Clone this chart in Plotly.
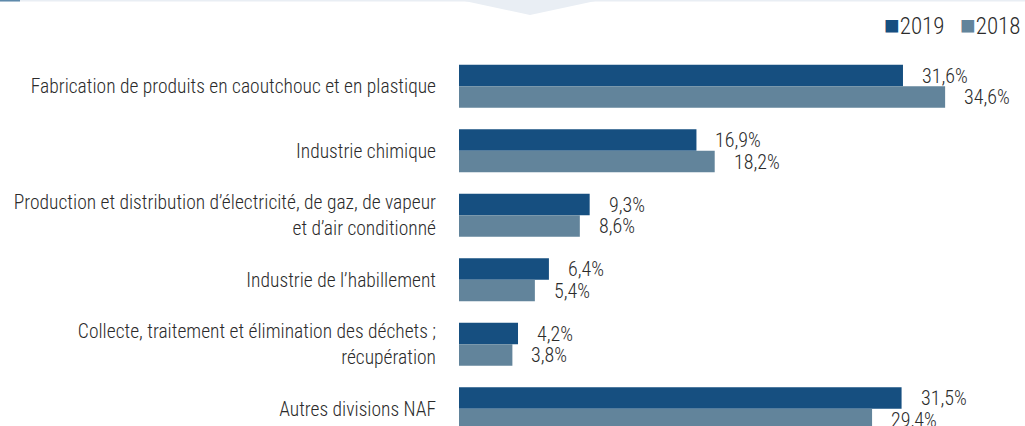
import plotly.graph_objects as go

# Categories (NAF divisions) and shares for each year
categories = [
    "Fabrication de produits en caoutchouc et en plastique",
    "Industrie chimique",
    "Production et distribution d’électricité, de gaz, de vapeur<br>et d’air conditionné",
    "Industrie de l’habillement",
    "Collecte, traitement et élimination des déchets ;<br>récupération",
    "Autres divisions NAF",
]
values_2019 = [31.6, 16.9, 9.3, 6.4, 4.2, 31.5]
values_2018 = [34.6, 18.2, 8.6, 5.4, 3.8, 29.4]
series_names = ["2019", "2018"]

COLOR_2019 = "#164f80"
COLOR_2018 = "#62849b"
TEXT_COLOR = "#2b2b2b"
FONT = "Roboto Condensed, Liberation Sans Narrow, sans-serif"

W, H = 1025, 426
ML, MR, MT, MB = 459, 4, 54, 0
PW, PH = W - ML - MR, H - MT - MB


def fx(px):
    return (px - ML) / PW


def fy(py):
    return 1 - (py - MT) / PH


def pct(v):
    return f"{v:.1f}".replace(".", ",") + "%"


fig = go.Figure()
for name, vals, col in [(series_names[0], values_2019, COLOR_2019),
                        (series_names[1], values_2018, COLOR_2018)]:
    fig.add_trace(go.Bar(
        x=vals, y=categories, orientation="h", name=name,
        marker=dict(color=col, line=dict(width=0)),
        showlegend=False, hoverinfo="skip",
    ))

# value labels beside each bar
annotations = []
for vals, shift in [(values_2019, 10.75), (values_2018, -10.75)]:
    for cat, v in zip(categories, vals):
        annotations.append(dict(
            x=v, y=cat, xref="x", yref="y", text=pct(v), showarrow=False,
            xanchor="left", yanchor="middle", xshift=17, yshift=shift,
            font=dict(family=FONT, size=20, weight=300, color=TEXT_COLOR),
        ))

# legend in the top-right corner
annotations.append(dict(
    x=fx(1022), y=fy(25), xref="paper", yref="paper", showarrow=False,
    xanchor="right", yanchor="middle",
    text=(f"<span style='color:{COLOR_2019};font-size:26px'>■</span>{series_names[0]}"
          f"&nbsp;&nbsp;&nbsp;<span style='color:{COLOR_2018};font-size:26px'>■</span>"
          f"{series_names[1]}"),
    font=dict(family=FONT, size=23, weight=300, color=TEXT_COLOR),
))

shapes = [
    # thin header rule with a downward chevron
    dict(type="rect", xref="paper", yref="paper",
         x0=fx(0), x1=fx(W), y0=fy(0), y1=fy(1.5),
         fillcolor="#e9eef4", line=dict(width=0), layer="below"),
    dict(type="path", xref="paper", yref="paper",
         path=(f"M {fx(460)},{fy(0)} L {fx(530)},{fy(15)} "
               f"L {fx(600)},{fy(0)} Z"),
         fillcolor="#e9eef4", line=dict(width=0), layer="below"),
    dict(type="rect", xref="paper", yref="paper",
         x0=fx(0), x1=fx(20), y0=fy(0), y1=fy(1.5),
         fillcolor="#5f8aab", line=dict(width=0), layer="below"),
]

fig.update_layout(
    width=W, height=H,
    margin=dict(l=ML, r=MR, t=MT, b=MB, pad=0, autoexpand=False),
    paper_bgcolor="white", plot_bgcolor="white",
    barmode="group", bargap=0.333, bargroupgap=0,
    font=dict(family=FONT, size=19.5, weight=300, color=TEXT_COLOR),
    xaxis=dict(range=[0, 40], visible=False, fixedrange=True, automargin=False),
    yaxis=dict(
        type="category", range=[5.267, -0.5], autorange=False,
        showline=False, showgrid=False, zeroline=False, ticks="",
        ticklabelstandoff=22, automargin=False,
        tickfont=dict(family=FONT, size=19.5, weight=300, color=TEXT_COLOR),
        fixedrange=True,
    ),
    annotations=annotations,
    shapes=shapes,
)

fig.write_html("out.html")
